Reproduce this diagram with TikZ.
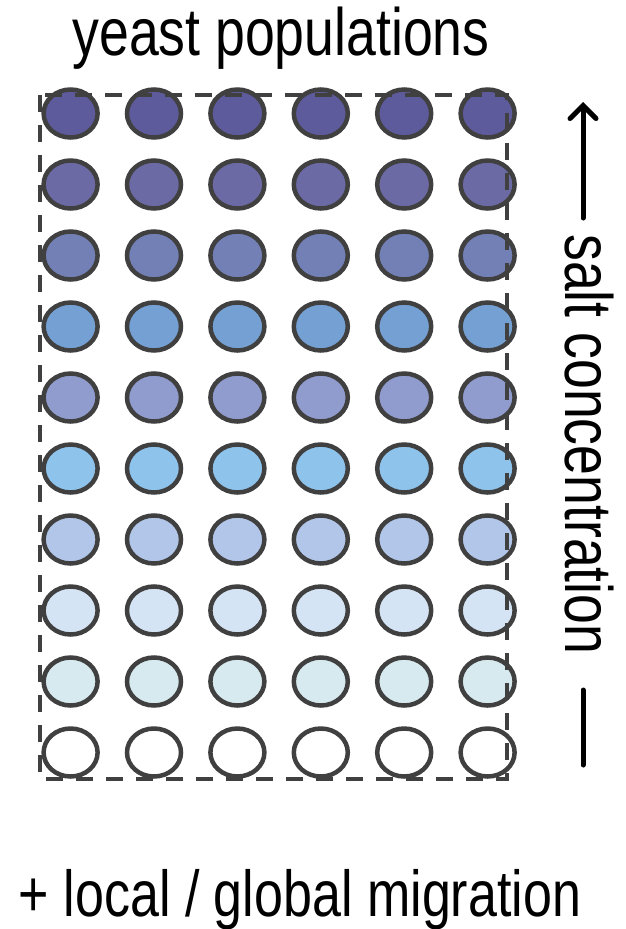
\documentclass[tikz,border=0pt]{standalone}
\usepackage{fontspec}
\setmainfont[FakeStretch=0.8]{Liberation Sans}
\usetikzlibrary{shapes.geometric,arrows.meta}
\definecolor{r1}{HTML}{5E5B9C}
\definecolor{r2}{HTML}{6C6AA5}
\definecolor{r3}{HTML}{7380B5}
\definecolor{r4}{HTML}{75A0D3}
\definecolor{r5}{HTML}{919CCE}
\definecolor{r6}{HTML}{8EC3EC}
\definecolor{r7}{HTML}{B1C6E8}
\definecolor{r8}{HTML}{D5E4F4}
\definecolor{r9}{HTML}{D7EAF0}
\definecolor{r10}{HTML}{FFFFFF}
\definecolor{rim}{HTML}{404040}
\tikzset{
  well/.style={ellipse, draw=rim, line width=4.5pt, inner sep=0pt,
    minimum width=54pt, minimum height=48pt},
  bigtext/.style={font=\fontsize{67pt}{67pt}\selectfont, inner sep=0pt},
  frame/.style={draw=rim, line width=4pt, dash pattern=on 17pt off 13pt},
  axis/.style={line width=5pt, line cap=round}
}
\begin{document}
\begin{tikzpicture}[x=1pt,y=-1pt]
\useasboundingbox (0,0) rectangle (625,929);
\foreach \r in {1,...,10}{
  \foreach \c in {1,...,6}{
    \node[well, fill=r\r] (c-\r-\c) at ({70.6+83.4*(\c-1)},{113.5+71*(\r-1)}) {};
  }
}
\draw[frame] (40,95) rectangle (507,779);
\node[bigtext, anchor=base] (title) at (281,55) {yeast populations};
\node[bigtext, anchor=base, font=\fontsize{65pt}{65pt}\selectfont] (mig) at (300,916) {+ local / global migration};
\node[bigtext, anchor=base west, rotate=-90] (salt) at (565,234) {salt concentration};
\coordinate (arrS) at (583,218);
\coordinate (arrE) at (583,102);
\draw[axis, -{Straight Barb[length=13pt,width=26pt,line cap=round]}] (arrS) -- (arrE);
\coordinate (barT) at (583,690);
\coordinate (barB) at (583,765);
\draw[axis] (barT) -- (barB);
\end{tikzpicture}
\end{document}
